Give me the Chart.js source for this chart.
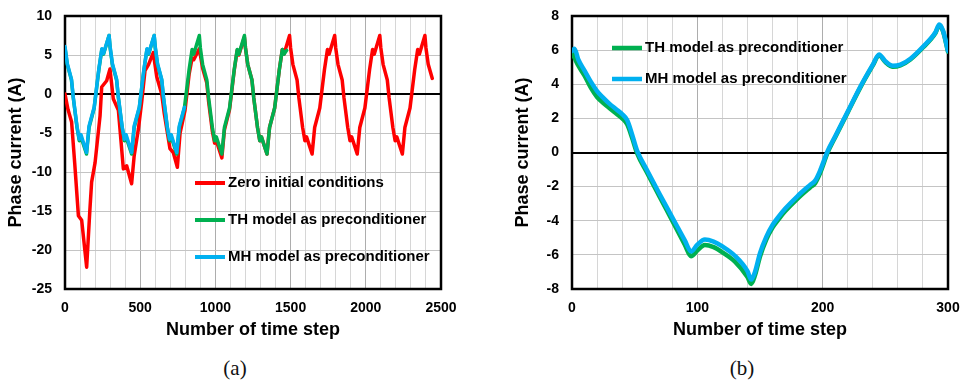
<!DOCTYPE html>
<html>
<head>
<meta charset="utf-8">
<script src="https://cdn.jsdelivr.net/npm/chart.js@4.4.0/dist/chart.umd.min.js"></script>
<style>
  html, body { margin: 0; padding: 0; background: #fff; }
  body { width: 961px; height: 382px; position: relative; overflow: hidden; }
  .box { position: absolute; top: 0; height: 350px; }
  #boxA { left: 0; width: 480px; }
  #boxB { left: 480px; width: 481px; }
  .cap {
    position: absolute; top: 368px; transform: translate(-50%, -50%);
    font-family: "Liberation Serif", "Times New Roman", serif; font-size: 21px; color: #111;
  }
</style>
</head>
<body>
<div class="box" id="boxA"><canvas id="chartA" width="480" height="350"></canvas></div>
<div class="box" id="boxB"><canvas id="chartB" width="481" height="350"></canvas></div>
<div class="cap" style="left:235px">(a)</div>
<div class="cap" style="left:742px">(b)</div>

<script>
// ---- chart (a): full run, 0..2500 time steps ----
const stepsRedA = [
  0, 20, 44, 65, 89, 111, 144, 165, 177, 200, 233, 244, 277, 299,
  321, 355, 388, 410, 443, 460, 488, 510, 532, 556, 587,
  610, 643, 660, 698, 720, 747, 765, 798, 825, 845, 856, 893,
  900, 915, 943, 955, 980, 995, 1006, 1043, 1060, 1094, 1125, 1145, 1156, 1193,
  1200, 1215, 1243, 1255, 1280, 1295, 1306, 1343, 1360, 1394, 1425, 1445, 1456, 1493,
  1500, 1515, 1543, 1555, 1580, 1595, 1606, 1643, 1660, 1694, 1725, 1745, 1756, 1793,
  1800, 1815, 1843, 1855, 1880, 1895, 1906, 1943, 1960, 1994, 2025, 2045, 2056, 2093,
  2100, 2115, 2143, 2155, 2180, 2195, 2206, 2243, 2260, 2294, 2325, 2345, 2356, 2393,
  2400, 2415, 2442
];
const currentRedA = [
  0, -2.0, -3.6, -9.0, -15.6, -16.2, -22.2, -15.0, -11.3, -8.8, -2.8, 0.9, 1.7, 3.2,
  -0.6, -2.1, -9.6, -9.2, -11.5, -7.9, -4.5, -1.0, 3.0, 3.8, 5.3,
  2.2, 0.0, -2.5, -7.0, -7.5, -9.4, -5.0, -2.1, 2.5, 4.6, 4.4, 5.8,
  5.0, 3.3, 1.4, -1.0, -4.8, -6.3, -6.0, -8.2, -4.6, -2.0, 3.0, 5.6, 5.0, 7.3,
  5.9, 3.8, 1.8, -0.5, -4.3, -6.0, -5.5, -7.7, -4.3, -1.8, 3.1, 5.7, 5.1, 7.5,
  5.9, 3.8, 1.8, -0.5, -4.3, -6.0, -5.5, -7.7, -4.3, -1.8, 3.1, 5.7, 5.1, 7.5,
  5.9, 3.8, 1.8, -0.5, -4.3, -6.0, -5.5, -7.7, -4.3, -1.8, 3.1, 5.7, 5.1, 7.5,
  5.9, 3.8, 1.8, -0.5, -4.3, -6.0, -5.5, -7.7, -4.3, -1.8, 3.1, 5.7, 5.1, 7.5,
  5.9, 3.8, 2.0
];

const stepsTHA = [
  0, 15, 43, 55, 80, 95, 106, 143, 160, 194, 225, 245, 256, 293,
  300, 315, 343, 355, 380, 395, 406, 443, 460, 494, 525, 545, 556, 593,
  600, 615, 643, 655, 680, 695, 706, 743, 760, 794, 825, 845, 856, 893,
  900, 915, 943, 955, 980, 995, 1006, 1043, 1060, 1094, 1125, 1145, 1156, 1193,
  1200, 1215, 1243, 1255, 1280, 1295, 1306, 1343, 1360, 1394, 1425, 1445, 1456, 1474
];
const currentTHA = [
  5.9, 3.8, 1.8, -0.5, -4.3, -6.0, -5.5, -7.7, -4.3, -1.8, 3.1, 5.7, 5.1, 7.5,
  5.9, 3.8, 1.8, -0.5, -4.3, -6.0, -5.5, -7.7, -4.3, -1.8, 3.1, 5.7, 5.1, 7.5,
  5.9, 3.8, 1.8, -0.5, -4.3, -6.0, -5.5, -7.7, -4.3, -1.8, 3.1, 5.7, 5.1, 7.5,
  5.9, 3.8, 1.8, -0.5, -4.3, -6.0, -5.5, -7.7, -4.3, -1.8, 3.1, 5.7, 5.1, 7.5,
  5.9, 3.8, 1.8, -0.5, -4.3, -6.0, -5.5, -7.7, -4.3, -1.8, 3.1, 5.7, 5.1, 5.6
];

const stepsMHA = [
  0, 15, 43, 55, 80, 95, 106, 143, 160, 194, 225, 245, 256, 293,
  300, 315, 343, 355, 380, 395, 406, 443, 460, 494, 525, 545, 556, 593,
  600, 615, 643, 655, 680, 695, 706, 743, 760, 794
];
const currentMHA = [
  6.1, 3.9, 1.9, -0.4, -4.2, -5.8, -5.2, -7.5, -4.1, -1.7, 3.2, 5.8, 5.2, 7.5,
  6.1, 3.9, 1.9, -0.4, -4.2, -5.8, -5.2, -7.5, -4.1, -1.7, 3.2, 5.8, 5.2, 7.5,
  6.1, 3.9, 1.9, -0.4, -4.2, -5.8, -5.2, -7.5, -4.1, -1.7
];

const xTickLabelsA = [0, 500, 1000, 1500, 2000, 2500];

// ---- chart (b): first period, 0..300 time steps ----
const stepsB = [
  0, 2, 5, 10, 15, 20, 25, 30, 35, 40, 44, 48, 52, 60, 70, 80, 90, 95, 100, 106,
  113, 120, 130, 140, 143, 146, 150, 155, 160, 165, 170, 180, 190, 194, 198, 204,
  210, 220, 230, 240, 245, 250, 256, 262, 270, 280, 290, 293, 296, 300
];
const currentTHB = [
  5.85, 5.55, 5.1, 4.5, 3.8, 3.25, 2.9, 2.6, 2.3, 2.0, 1.65, 0.85, -0.05, -1.2, -2.6, -4.0, -5.4, -6.08, -5.75, -5.42,
  -5.55, -5.85, -6.4, -7.3, -7.7, -7.2, -6.1, -5.1, -4.4, -3.9, -3.45, -2.7, -2.05, -1.8, -1.2, 0.0,
  0.9, 2.35, 3.8, 5.1, 5.7, 5.3, 5.02, 5.1, 5.45, 6.15, 7.0, 7.45, 7.1, 5.9
];
const currentMHB = [
  5.95, 6.08, 5.45, 4.8, 4.15, 3.6, 3.2, 2.85, 2.55, 2.25, 1.9, 1.05, 0.1, -1.05, -2.45, -3.8, -5.15, -5.8, -5.4, -5.1,
  -5.22, -5.5, -6.05, -6.95, -7.45, -7.0, -5.9, -4.95, -4.25, -3.75, -3.3, -2.55, -1.9, -1.65, -1.05, 0.1,
  0.95, 2.4, 3.85, 5.15, 5.75, 5.35, 5.08, 5.15, 5.5, 6.2, 7.05, 7.5, 7.15, 5.95
];

const xTickLabelsB = [0, 100, 200, 300];

const RED = '#FF0000';
const GREEN = '#00B050';
const BLUE = '#00B0F0';
const FONT = '"Liberation Sans", Arial, sans-serif';

Chart.defaults.font.family = FONT;
Chart.defaults.color = '#000';

const pts = (xs, ys) => xs.map((x, i) => ({ x, y: ys[i] }));

// black box round the plot area
const plotFrame = {
  id: 'plotFrame',
  beforeDatasetsDraw(chart) {
    const { ctx, chartArea: a } = chart;
    ctx.save();
    ctx.strokeStyle = '#000';
    ctx.lineWidth = 2.5;
    ctx.strokeRect(a.left, a.top, a.right - a.left, a.bottom - a.top);
    ctx.restore();
  }
};

// legend drawn inside the plot, Excel style
const innerLegend = {
  id: 'innerLegend',
  afterDraw(chart, args, opts) {
    const ctx = chart.ctx;
    ctx.save();
    ctx.font = 'bold 15px ' + FONT;
    ctx.textBaseline = 'middle';
    chart.data.datasets.forEach((ds, i) => {
      const y = opts.y + i * opts.gap;
      ctx.strokeStyle = ds.borderColor;
      ctx.lineWidth = opts.lineWidth;
      ctx.beginPath();
      ctx.moveTo(opts.x, y);
      ctx.lineTo(opts.x + 30, y);
      ctx.stroke();
      ctx.fillStyle = '#000';
      ctx.fillText(ds.label, opts.x + 33, y);
    });
    ctx.restore();
  }
};

function buildOptions(cfg) {
  return {
    responsive: false,
    animation: false,
    events: [],
    layout: { padding: { top: 16, right: cfg.padRight, left: 0, bottom: 0 } },
    plugins: {
      legend: { display: false },
      tooltip: { enabled: false },
      innerLegend: cfg.legend,
    },
    elements: {
      line: { borderJoinStyle: 'round', borderCapStyle: 'round' },
      point: { radius: 0 },
    },
    scales: {
      x: {
        type: 'linear',
        min: cfg.xMin, max: cfg.xMax,
        afterFit(scale) {
          // pin the plot area: no extra room for overhanging labels
          scale.height = 61;
          scale.paddingLeft = 0;
          scale.paddingRight = 0;
        },
        border: { display: false },
        grid: {
          drawTicks: false,
          color: c => cfg.xLabels.includes(c.tick.value) ? '#ADADAD' : '#D6D6D6',
          lineWidth: 1,
        },
        ticks: {
          stepSize: cfg.xStep,
          autoSkip: false,
          maxRotation: 0,
          padding: 11,
          font: { size: 14, weight: 'bold' },
          callback: v => cfg.xLabels.includes(v) ? String(v) : '',
        },
        title: {
          display: true,
          text: 'Number of time step',
          font: { size: 18, weight: 'bold' },
          padding: { top: 0, bottom: 9 },
        },
      },
      y: {
        min: cfg.yMin, max: cfg.yMax,
        afterFit(scale) {
          scale.width = cfg.yWidth;
          scale.paddingTop = 0;
          scale.paddingBottom = 0;
        },
        border: { display: false },
        grid: {
          drawTicks: false,
          color: c => c.tick.value === 0 ? '#000' : '#C4C4C4',
          lineWidth: c => c.tick.value === 0 ? 2 : 1,
        },
        ticks: {
          stepSize: cfg.yStep,
          padding: 13,
          font: { size: 14, weight: 'bold' },
        },
        title: {
          display: true,
          text: 'Phase current (A)',
          font: { size: 18, weight: 'bold' },
          padding: { top: cfg.yTitlePad, bottom: 0 },
        },
      },
    },
  };
}

new Chart(document.getElementById('chartA'), {
  type: 'line',
  data: {
    datasets: [
      { label: 'Zero initial conditions', data: pts(stepsRedA, currentRedA),
        borderColor: RED, borderWidth: 3.5, tension: 0, order: 3 },
      { label: 'TH model as preconditioner', data: pts(stepsTHA, currentTHA),
        borderColor: GREEN, borderWidth: 3.5, tension: 0, order: 2 },
      { label: 'MH model as preconditioner', data: pts(stepsMHA, currentMHA),
        borderColor: BLUE, borderWidth: 3.5, tension: 0, order: 1 },
    ]
  },
  options: buildOptions({
    padRight: 39, yWidth: 65, yTitlePad: 5,
    xMin: 0, xMax: 2500, xStep: 100, xLabels: xTickLabelsA,
    yMin: -25, yMax: 10, yStep: 5,
    legend: { x: 195, y: 183, gap: 37, lineWidth: 4 },
  }),
  plugins: [plotFrame, innerLegend],
});

new Chart(document.getElementById('chartB'), {
  type: 'line',
  data: {
    datasets: [
      { label: 'TH model as preconditioner', data: pts(stepsB, currentTHB),
        borderColor: GREEN, borderWidth: 4.5, cubicInterpolationMode: 'monotone', order: 2 },
      { label: 'MH model as preconditioner', data: pts(stepsB, currentMHB),
        borderColor: BLUE, borderWidth: 4.5, cubicInterpolationMode: 'monotone', order: 1 },
    ]
  },
  options: buildOptions({
    padRight: 13, yWidth: 92, yTitlePad: 32,
    xMin: 0, xMax: 300, xStep: 20, xLabels: xTickLabelsB,
    yMin: -8, yMax: 8, yStep: 2,
    legend: { x: 132, y: 48, gap: 31, lineWidth: 4.5 },
  }),
  plugins: [plotFrame, innerLegend],
});
</script>
</body>
</html>
